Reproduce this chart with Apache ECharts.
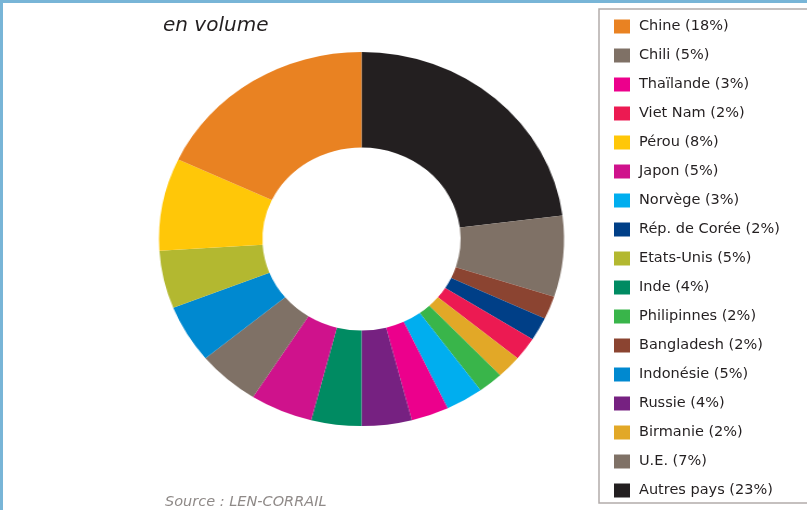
<!DOCTYPE html>
<html>
<head>
<meta charset="utf-8">
<script src="https://cdn.jsdelivr.net/npm/echarts@6/dist/echarts.min.js"></script>
<style>
  html, body { margin: 0; padding: 0; background: #fff; }
  #wrap { position: relative; width: 807px; height: 510px; overflow: hidden; }
  #pie, #main { position: absolute; left: 0; top: 0; width: 807px; height: 510px; }
  #pie { transform-origin: 361.5px 239px; transform: scaleX(1.083); }
</style>
</head>
<body>
<div id="wrap">
  <div id="pie"></div>
  <div id="main"></div>
</div>
<script>
// Slices, clockwise from 12 o'clock
const categories = ['Autres pays','U.E.','Bangladesh','Rép. de Corée','Viet Nam','Birmanie','Philipinnes','Norvège','Thaïlande','Russie','Inde','Japon','Chili','Indonésie','Etats-Unis','Pérou','Chine'];
const shares = [23, 7, 2, 2, 2, 2, 2, 3, 3, 4, 4, 5, 5, 5, 5, 8, 18];
const colors = ['#231f20','#7f7166','#8b4431','#003f87','#ec1a52','#e2a827','#39b54a','#00aeef','#ec008c','#762181','#008b62','#cf128c','#7f7166','#0089d0','#b3b830','#ffc708','#e98222'];
// Legend order as printed
const legendOrder = ['Chine','Chili','Thaïlande','Viet Nam','Pérou','Japon','Norvège','Rép. de Corée','Etats-Unis','Inde','Philipinnes','Bangladesh','Indonésie','Russie','Birmanie','U.E.','Autres pays'];
const titleText = 'en volume';
const sourceText = 'Source : LEN-CORRAIL';

const pieData = categories.map((c, i) => ({ name: c, value: shares[i], itemStyle: { color: colors[i], borderWidth: 0 } }));
const pctOf = {};
categories.forEach((c, i) => { pctOf[c] = shares[i]; });

const pieChart = echarts.init(document.getElementById('pie'), null, { renderer: 'canvas' });
pieChart.setOption({
  animation: false,
  series: [{
    type: 'pie',
    center: [361.5, 239],
    radius: [91.5, 187],
    startAngle: 90,
    clockwise: true,
    avoidLabelOverlap: false,
    silent: true,
    label: { show: false },
    labelLine: { show: false },
    itemStyle: { borderWidth: 0 },
    emphasis: { disabled: true },
    data: pieData
  }]
});

const main = echarts.init(document.getElementById('main'), null, { renderer: 'canvas' });
main.setOption({
  animation: false,
  legend: {
    orient: 'vertical',
    left: 614,
    top: 19,
    height: 490,
    padding: 0,
    itemWidth: 16,
    itemHeight: 14,
    itemGap: 14,
    icon: 'rect',
    selectedMode: false,
    data: legendOrder,
    formatter: name => name + ' (' + pctOf[name] + '%)',
    textStyle: {
      fontFamily: 'DejaVu Sans',
      fontSize: 14.5,
      lineHeight: 14,
      color: '#231f20',
      padding: [0, 0, 0, 4]
    }
  },
  graphic: [
    { type: 'rect', shape: { x: 0, y: 0, width: 807, height: 3 }, style: { fill: '#78b5d7' }, silent: true },
    { type: 'rect', shape: { x: 0, y: 0, width: 3, height: 510 }, style: { fill: '#78b5d7' }, silent: true },
    { type: 'rect', shape: { x: 599, y: 9, width: 260, height: 494 }, style: { fill: 'none', stroke: '#b2acaa', lineWidth: 1.5 }, silent: true },
    { type: 'text', left: 163, top: 16, style: { text: titleText, font: 'italic 20px "DejaVu Sans"', fill: '#231f20' }, silent: true },
    { type: 'text', left: 165, top: 495, style: { text: sourceText, font: 'italic 14.5px "DejaVu Sans"', fill: '#8f8a88' }, silent: true }
  ],
  series: [{
    type: 'pie',
    center: [-500, -500],
    radius: 1,
    silent: true,
    label: { show: false },
    labelLine: { show: false },
    data: pieData
  }]
});
</script>
</body>
</html>
